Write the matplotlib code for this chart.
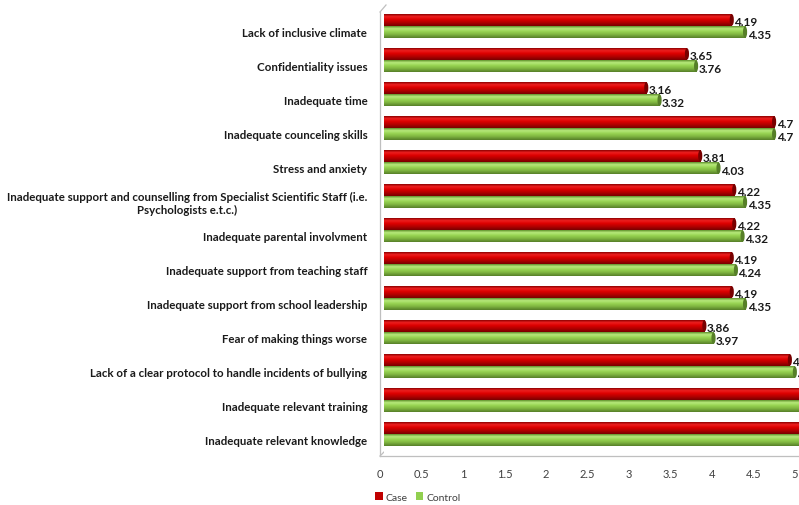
import numpy as np
import matplotlib
matplotlib.use("Agg")
import matplotlib.pyplot as plt
import matplotlib.transforms as mtransforms
from matplotlib.patches import Patch, Ellipse
from matplotlib.lines import Line2D

plt.rcParams["font.family"] = ["Lato", "DejaVu Sans"]

categories = [
    "Lack of inclusive climate",
    "Confidentiality issues",
    "Inadequate time",
    "Inadequate counceling skills",
    "Stress and anxiety",
    "Inadequate support and counselling from Specialist Scientific Staff (i.e.\nPsychologists e.t.c.)",
    "Inadequate parental involvment",
    "Inadequate support from teaching staff",
    "Inadequate support from school leadership",
    "Fear of making things worse",
    "Lack of a clear protocol to handle incidents of bullying",
    "Inadequate relevant training",
    "Inadequate relevant knowledge",
]
case_vals = [4.19, 3.65, 3.16, 4.7, 3.81, 4.22, 4.22, 4.19, 4.19, 3.86, 4.89, 5.1, 5.1]
control_vals = [4.35, 3.76, 3.32, 4.7, 4.03, 4.35, 4.32, 4.24, 4.35, 3.97, 4.95, 5.1, 5.1]
series_names = ["Case", "Control"]

RED = ["#8c0000", "#ee2020", "#dc0000", "#b40000", "#780000"]
GREEN = ["#5f8f2c", "#b8ea7c", "#98d452", "#7fb540", "#567f28"]
XMAX = 5


def draw_cylinders(ax, ys, vals, base, shades, h):
    bars = ax.barh(ys, vals, height=h, color=base, edgecolor="none", clip_on=False, zorder=2)
    grad = matplotlib.colors.LinearSegmentedColormap.from_list(
        "g", [(0, shades[4]), (0.3, shades[3]), (0.55, shades[2]), (0.8, shades[1]), (1, shades[0])])
    for b in bars:
        x0, y0, w, hh = b.get_x(), b.get_y(), b.get_width(), b.get_height()
        im = ax.imshow(np.linspace(0, 1, 64).reshape(-1, 1), cmap=grad, aspect="auto",
                       extent=(x0, x0 + w, y0, y0 + hh), origin="lower", zorder=2,
                       interpolation="bilinear", clip_on=False)
        im.set_clip_path(b)
        ax.add_patch(Ellipse((x0 + w, y0 + hh / 2), 0.05, hh, facecolor=shades[4],
                             edgecolor="none", zorder=3, clip_on=False))
    return bars


fig = plt.figure(figsize=(7.99, 5.06), dpi=100)
W, H = 799, 506
ax = fig.add_axes([384 / W, 1 - 455 / H, (799 - 384) / W, (455 - 10) / H])

n = len(categories)
ys = np.arange(n)[::-1]
h = 0.34
off = 0.18
draw_cylinders(ax, ys + off, case_vals, "#dc0000", RED, h)
draw_cylinders(ax, ys - off, control_vals, "#92d050", GREEN, h)

# value labels (ones starting past the plot edge are not visible in the original)
for y, c, k in zip(ys, case_vals, control_vals):
    for v, yy in ((c, y + off - 0.06), (k, y - off - 0.06)):
        if v < XMAX:
            ax.text(v + 0.03, yy, f"{v:g}", fontsize=8.5, fontweight="bold",
                    va="center", ha="left", color="#1a1a1a", clip_on=False)

ax.set_xlim(0, XMAX)
ax.set_ylim(-0.588, 12.5)
ticks = np.arange(0, 5.01, 0.5)
ax.set_xticks(ticks)
ax.set_xticklabels([f"{t:g}" for t in ticks], fontsize=8, color="#404040")
ax.set_yticks(ys)
ax.set_yticklabels(categories, fontsize=8.3, fontweight="bold", color="#1a1a1a",
                   multialignment="center")
ax.tick_params(axis="both", length=0)
ax.tick_params(axis="x", pad=10)
ax.tick_params(axis="y", pad=12)
for s in ax.spines.values():
    s.set_visible(False)

dx = mtransforms.ScaledTranslation(-4 / 100, 0, fig.dpi_scale_trans)
for lab in ax.get_xticklabels():
    lab.set_transform(lab.get_transform() + dx)
dy = mtransforms.ScaledTranslation(0, -5 / 100, fig.dpi_scale_trans)
for lab in ax.get_yticklabels():
    lab.set_transform(lab.get_transform() + dy)

# 3d walls
wall = "#bfbfbf"
for (x1, y1), (x2, y2) in [((380, 13), (380, 457)), ((380, 457), (799, 457)),
                           ((380, 13), (386, 6)), ((380, 457), (387, 450))]:
    fig.add_artist(Line2D([x1 / W, x2 / W], [1 - y1 / H, 1 - y2 / H], color=wall, lw=0.9,
                          transform=fig.transFigure, zorder=0))

handles = [Patch(facecolor="#c00000"), Patch(facecolor="#92d050")]
fig.legend(handles, series_names, loc="lower left", bbox_to_anchor=(366 / W, -0.012), ncol=2,
           frameon=False, fontsize=7.5, handlelength=0.7, handleheight=0.7, handletextpad=0.3,
           columnspacing=0.8, labelcolor="#404040")

fig.savefig("out.png", dpi=100)
